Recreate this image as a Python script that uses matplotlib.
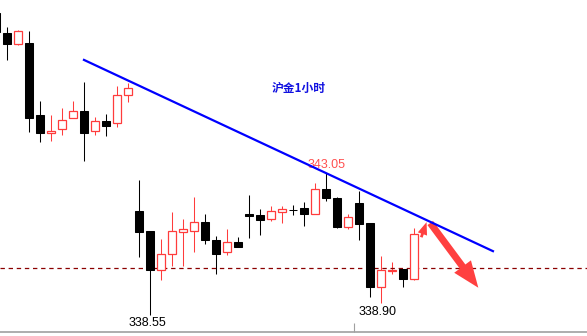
import matplotlib
matplotlib.use("Agg")
import matplotlib.pyplot as plt
import numpy as np

# 沪金 1 hour candles (first one is cut off at the left edge)
opens = [348.20, 347.56, 347.22, 347.24, 344.94, 344.37, 344.48, 344.83, 345.07, 344.42,
         344.75, 344.67, 345.57, 341.87, 341.23, 339.99, 340.49, 341.21, 341.22, 341.52,
         340.95, 340.57, 340.88, 341.79, 341.75, 341.61, 341.85, 341.92, 341.96, 341.78,
         342.58, 342.28, 341.37, 342.13, 341.48, 339.43, 339.97, 340.01, 339.70]
highs = [348.20, 347.75, 347.66, 347.62, 345.39, 344.94, 345.16, 345.39, 345.99, 344.87,
         344.97, 345.87, 345.97, 342.86, 341.23, 340.98, 341.84, 341.62, 342.32, 341.79,
         341.07, 341.30, 341.04, 342.38, 341.94, 342.03, 342.03, 342.06, 342.15, 342.77,
         343.08, 342.32, 341.77, 342.51, 341.48, 340.43, 340.25, 340.01, 341.32]
lows = [347.59, 346.71, 347.17, 344.41, 344.09, 344.12, 344.31, 344.83, 343.48, 344.31,
        344.28, 344.57, 345.36, 340.41, 338.55, 339.67, 340.12, 340.12, 340.57, 340.82,
        339.87, 340.48, 340.73, 341.02, 341.11, 341.56, 341.50, 341.75, 341.40, 341.78,
        342.20, 341.32, 341.31, 340.95, 339.13, 338.92, 339.85, 339.43, 339.67]
closes = [347.59, 347.22, 347.61, 344.85, 344.37, 344.43, 344.78, 345.07, 344.37, 344.74,
          344.60, 345.57, 345.79, 341.21, 339.98, 340.49, 341.22, 341.30, 341.51, 340.95,
          340.51, 340.88, 340.73, 341.72, 341.60, 341.87, 341.94, 341.90, 341.77, 342.57,
          342.28, 341.37, 341.67, 341.47, 339.43, 339.99, 339.99, 339.69, 341.13]
idx = np.arange(len(opens)) - 1

trend_x = [6.97, 44.15]
trend_y = [346.70, 340.59]
support = 340.05
high_label = "343.05"
low_labels = ["338.55", "338.90"]
title = "沪金1小时"

up_col = "#ff3c3c"
down_col = "black"

fig = plt.figure(figsize=(5.87, 3.36), dpi=100)
ax = fig.add_axes([0, 4 / 336, 1, 332 / 336])
ax.set_xlim(-0.664, 52.70)
ax.set_ylim(338.007, 348.614)

w = 0.74
for x, o, h, l, c in zip(idx, opens, highs, lows, closes):
    top = max(o, c)
    bot = min(o, c)
    if c > o:
        col = up_col
        ax.vlines(x, top, h, color=col, lw=0.75)
        ax.vlines(x, l, bot, color=col, lw=0.75)
        ax.add_patch(plt.Rectangle((x - w / 2, bot), w, top - bot,
                                   facecolor="white", edgecolor=col, lw=0.9, zorder=3))
    else:
        col = down_col
        ax.vlines(x, l, h, color=col, lw=0.75)
        ax.add_patch(plt.Rectangle((x - w / 2, bot), w, top - bot,
                                   facecolor=col, edgecolor=col, lw=0.75, zorder=3))

ax.axhline(support, color="#8b0000", lw=0.9, ls=(0, (3.5, 3)))
ax.plot(trend_x, trend_y, color="#0000ff", lw=1.6, zorder=4)

# price labels
ax.text(29.0, 343.35, high_label, color="#ff5050", fontsize=9,
        family="Liberation Sans", ha="center", va="center")
ax.text(12.7, 338.30, low_labels[0], color="black", fontsize=9,
        family="Liberation Sans", ha="center", va="center")
ax.text(33.7, 338.66, low_labels[1], color="black", fontsize=9,
        family="Liberation Sans", ha="center", va="center")
ax.text(26.5, 345.78, title, color="#1010e0", fontsize=8.5, fontweight="bold",
        family=["Noto Sans CJK SC", "DejaVu Sans"], ha="center", va="center")

# arrows
ax.annotate("", xy=(38.2, 341.60), xytext=(37.55, 340.95),
            arrowprops=dict(arrowstyle="simple,head_width=0.7,head_length=0.9,tail_width=0.2",
                            color="#ff4040", lw=0))
ax.annotate("", xy=(42.97, 339.35), xytext=(38.3, 341.56),
            arrowprops=dict(arrowstyle="simple,head_width=1.5,head_length=1.9,tail_width=0.5",
                            color="#ff4040", lw=0))

for s in ["top", "left", "right"]:
    ax.spines[s].set_visible(False)
ax.spines["bottom"].set_color("#a0a0a0")
ax.spines["bottom"].set_linewidth(1.2)
ax.set_yticks([])
ax.set_xticks([31.55])
ax.set_xticklabels([])
ax.tick_params(axis="x", direction="in", length=6.5, color="#a0a0a0", width=0.8)

fig.savefig("out.png", dpi=100)
